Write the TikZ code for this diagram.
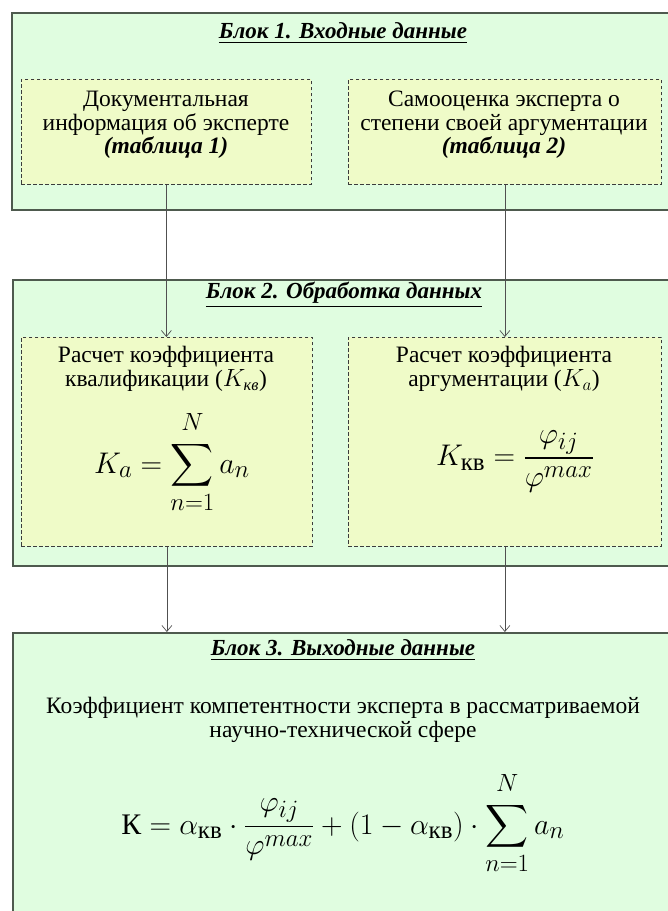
\documentclass[tikz,border=0pt]{standalone}
\usepackage{amsmath}
\usepackage{graphicx}
\usepackage{fontspec}
\setmainfont{Liberation Serif}
\newfontfamily\rusfont{Liberation Serif}
\usetikzlibrary{arrows.meta}
\definecolor{outerfill}{HTML}{E0FDE0}
\definecolor{outerdraw}{HTML}{4E5A4E}
\definecolor{innerfill}{HTML}{EFFBC8}
\definecolor{innerdraw}{HTML}{3C3C3C}
\definecolor{arrowcol}{HTML}{505050}
\newcommand{\bigformula}[1]{\scalebox{1.2}{$\displaystyle #1$}}
\newcommand{\upN}{\rule[-7pt]{0pt}{7pt}N}
\begin{document}
\begin{tikzpicture}[x=1pt,y=-1pt,
  outerblock/.style={draw=outerdraw, line width=1.6pt, fill=outerfill, rectangle, anchor=north west, inner sep=0pt},
  innerbox/.style={draw=innerdraw, line width=0.8pt, dash pattern=on 3.5pt off 2.5pt, fill=innerfill, rectangle, anchor=north west, inner sep=0pt},
  titletxt/.style={font=\rusfont\fontsize{23}{26}\selectfont\bfseries\itshape, inner sep=0pt},
  bodytxt/.style={font=\rusfont\fontsize{23.5}{23.5}\selectfont, align=center, inner sep=0pt},
  formula/.style={font=\rusfont\fontsize{24.88}{30}\selectfont, inner sep=0pt},
  arr/.style={draw=arrowcol, line width=0.7pt, -{Straight Barb[length=6pt,width=10pt]}}
]
\useasboundingbox (0,0) rectangle (668,911);
\clip (0,0) rectangle (668,911);
\fill[white] (0,0) rectangle (668,911);

% Block 1
\node[outerblock, minimum width=664pt, minimum height=197pt] (b1) at (11,12) {};
\node[titletxt] (t1) at (343,33) {\underline{Блок 1. Входные данные}};
\node[innerbox, minimum width=290pt, minimum height=105pt] (l1) at (21,79) {};
\node[innerbox, minimum width=313pt, minimum height=105pt] (r1) at (348,79) {};
\node[bodytxt] (l1t) at (166,125) {Документальная\\информация об эксперте\\\textbf{\textit{(таблица 1)}}};
\node[bodytxt] (r1t) at (504,125) {Самооценка эксперта о\\степени своей аргументации\\\textbf{\textit{(таблица 2)}}};

% Block 2
\node[outerblock, minimum width=663pt, minimum height=286pt] (b2) at (12,279) {};
\node[titletxt] (t2) at (344,295) {\underline{Блок 2. Обработка данных}};
\node[innerbox, minimum width=291pt, minimum height=209pt] (l2) at (21,337) {};
\node[innerbox, minimum width=313pt, minimum height=209pt] (r2) at (348,337) {};
\node[bodytxt] (l2t) at (166,369) {Расчет коэффициента\\квалификации ($K_{\textit{кв}}$)};
\node[bodytxt] (r2t) at (504,369) {Расчет коэффициента\\аргументации ($K_{a}$)};
\node[formula] (l2f) at (172,462) {\bigformula{K_a=\sum_{n=1}^{\upN}a_n}};
\node[formula] (r2f) at (515,461) {\bigformula{K_{\text{кв}}=\frac{\varphi_{ij}}{\varphi^{max}}}};

% Block 3
\node[outerblock, minimum width=663pt, minimum height=310pt] (b3) at (12,632) {};
\node[titletxt] (t3) at (343,650) {\underline{Блок 3. Выходные данные}};
\node[bodytxt] (b3t) at (343,720) {Коэффициент компетентности эксперта в рассматриваемой\\научно-технической сфере};
\node[formula] (b3f) at (343,823) {\bigformula{\text{К}=\alpha_{\text{кв}}\cdot\frac{\varphi_{ij}}{\varphi^{max}}+(1-\alpha_{\text{кв}})\cdot\sum_{n=1}^{\upN}a_n}};

% Connectors
\draw[arr] (l1.south) -- (l1.south |- l2.north);
\draw[arr] (r1.south) -- (r1.south |- r2.north);
\draw[arr] (l2.south) -- (l2.south |- b3.north);
\draw[arr] (r2.south) -- (r2.south |- b3.north);
\end{tikzpicture}
\end{document}
